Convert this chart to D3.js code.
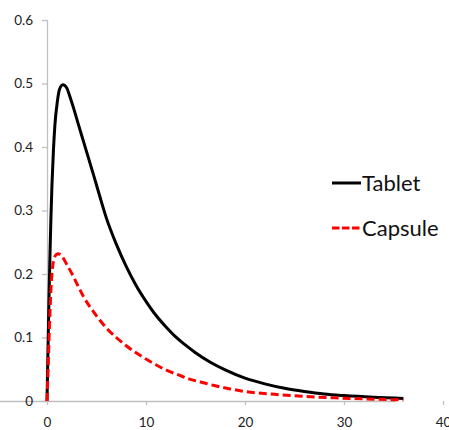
<!DOCTYPE html>
<html><head><meta charset="utf-8">
<script src="https://cdn.jsdelivr.net/npm/d3@7"></script>
<style>body{margin:0;background:#fff}svg{display:block}text{font-family:Lato,"Open Sans",sans-serif}</style>
</head><body>
<svg id="c" width="449" height="430"></svg>
<script>
const tabletT = [0,0.1,0.2,0.3,0.4,0.5,0.65,0.8,1.05,1.25,1.6,2.0,2.3,2.67,3.2,3.7,4.2,4.7,5.3,6,7,8,9,10,11,12,13,14,15,16.5,18,20,22,24,26,28,30,33,36];
const tabletV = [0,0.08,0.16,0.23,0.29,0.34,0.395,0.435,0.472,0.49,0.498,0.493,0.48,0.462,0.434,0.408,0.382,0.356,0.324,0.288,0.247,0.212,0.182,0.157,0.135,0.117,0.101,0.088,0.076,0.061,0.049,0.036,0.027,0.020,0.015,0.011,0.0085,0.0058,0.004];
const capsuleT = [0,0.1,0.2,0.3,0.45,0.6,0.8,1.1,1.5,2.0,2.67,3.2,3.7,4.4,5.2,6,7,8,9,10,11,12,13.3,14.5,15.5,17,18.5,20,23,26,29,32,36];
const capsuleV = [0,0.045,0.095,0.14,0.19,0.215,0.228,0.232,0.228,0.215,0.196,0.179,0.164,0.147,0.130,0.115,0.100,0.087,0.076,0.066,0.057,0.049,0.041,0.034,0.030,0.024,0.019,0.015,0.0105,0.0072,0.005,0.0033,0.0016];
const xTicks = [0,10,20,30,40];
const yTicks = [0,0.1,0.2,0.3,0.4,0.5,0.6];
const seriesNames = ["Tablet","Capsule"];

const svg = d3.select("#c");
const x = d3.scaleLinear().domain([0,40]).range([47,443]);
const y = d3.scaleLinear().domain([0,0.6]).range([401,20]);
const axisColor = "#bfbfbf";

const xa = svg.append("g").attr("transform","translate(0,401)")
  .call(d3.axisBottom(x).tickValues(xTicks).tickSize(4).tickPadding(12).tickFormat(d3.format("d")));
const ya = svg.append("g").attr("transform","translate(47,0)")
  .call(d3.axisLeft(y).tickValues(yTicks).tickSize(5).tickPadding(9).tickFormat(d=>d===0?"0":d3.format(".1f")(d)));
[xa,ya].forEach(a=>{
  a.select(".domain").attr("stroke",axisColor).attr("stroke-width",1.3);
  a.selectAll(".tick line").attr("stroke",axisColor).attr("stroke-width",1.3);
  a.selectAll(".tick text").attr("fill","#222").style("font-size","13.5px");
});
ya.select(".domain").attr("d","M0.5,20V401");
xa.select(".domain").attr("d","M0,0.5H396");

const line = d3.line().x(d=>x(d[0])).y(d=>y(d[1])).curve(d3.curveMonotoneX);
const tab = tabletT.map((t,i)=>[t,tabletV[i]]);
const cap = capsuleT.map((t,i)=>[t,capsuleV[i]]);
svg.append("path").datum(tab).attr("d",line).attr("fill","none").attr("stroke","#000").attr("stroke-width",3);
svg.append("path").datum(cap).attr("d",line).attr("fill","none").attr("stroke","#ff0000").attr("stroke-width",3).attr("stroke-dasharray","8,4");

// legend
const lg = svg.append("g");
const items = [{n:seriesNames[0],c:"#000",d:null,y:183},{n:seriesNames[1],c:"#ff0000",d:"7.5,2.5",y:228}];
items.forEach(it=>{
  lg.append("line").attr("x1",332).attr("x2",361).attr("y1",it.y).attr("y2",it.y)
    .attr("stroke",it.c).attr("stroke-width",3).attr("stroke-dasharray",it.d);
  lg.append("text").attr("x",362).attr("y",it.y+8).attr("fill","#111").style("font-size","22px").text(it.n);
});
</script>
</body></html>
